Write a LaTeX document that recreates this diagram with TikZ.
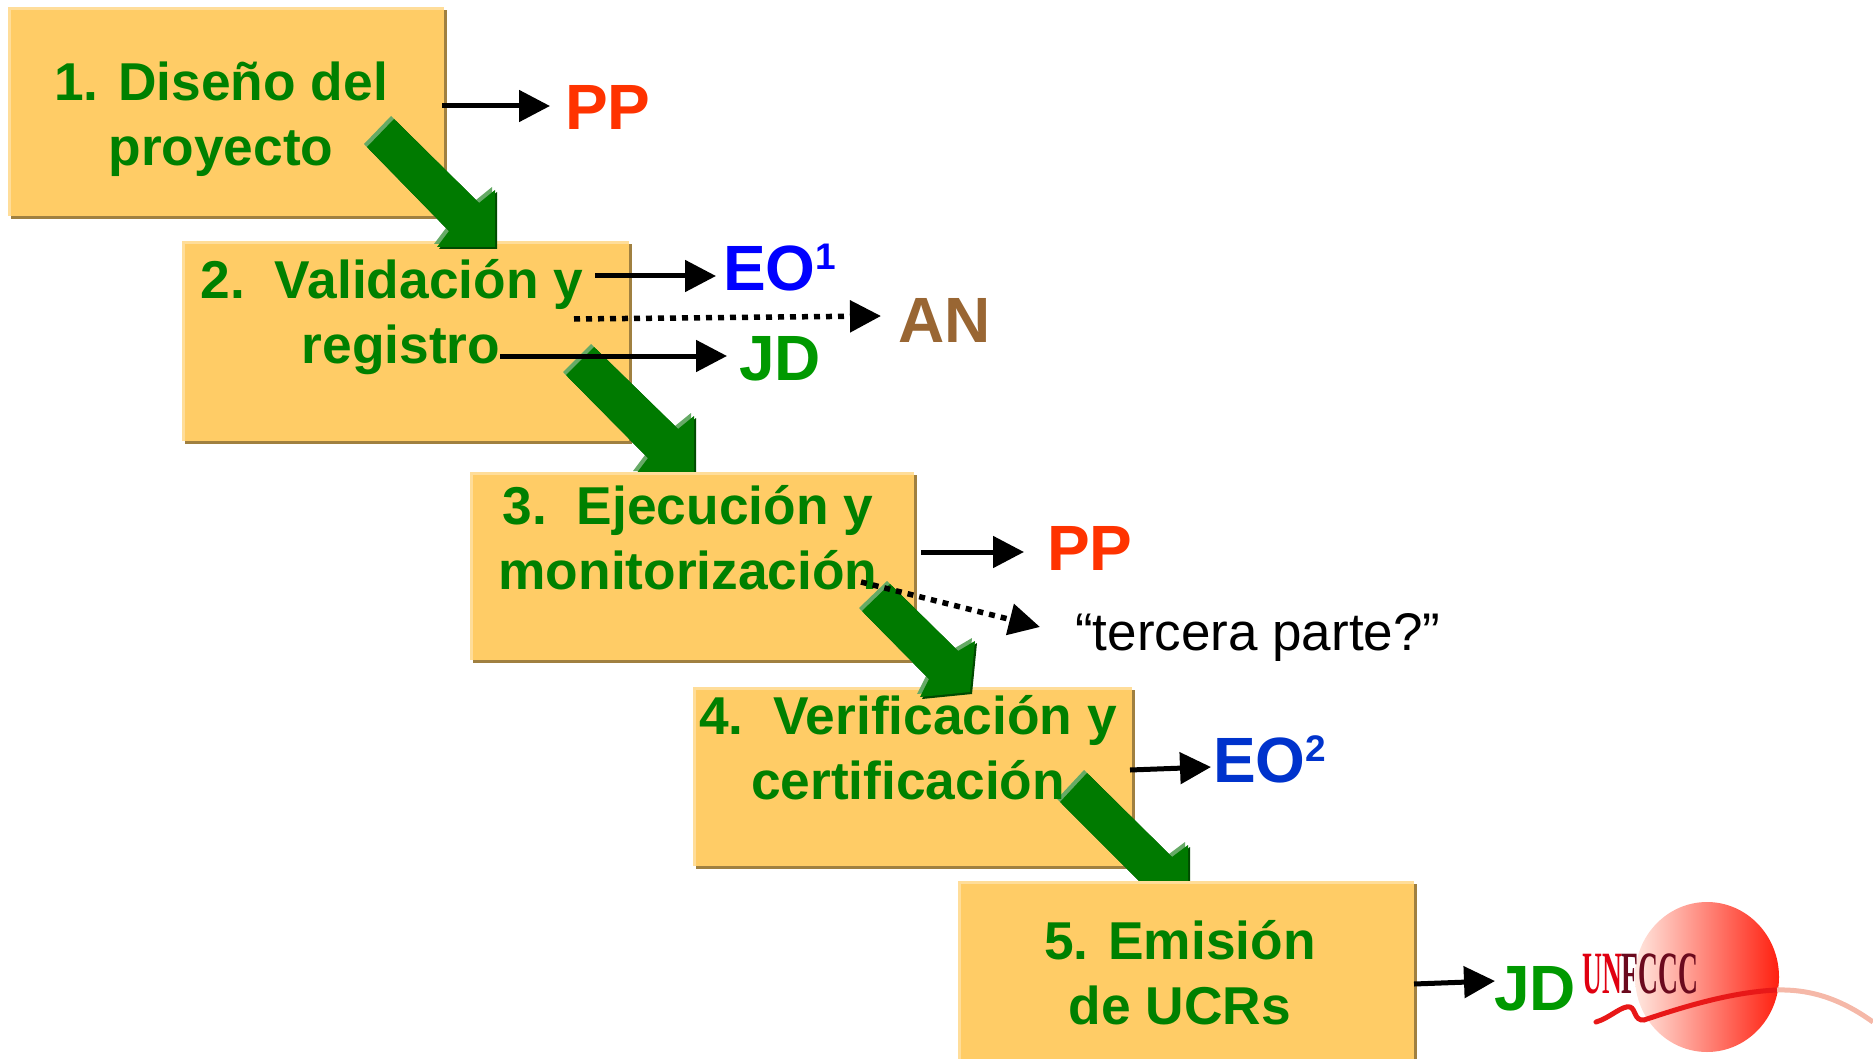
\documentclass[tikz,border=0pt]{standalone}
\usepackage{fontspec}
\setmainfont{Liberation Sans}
\newfontfamily\logofont{Liberation Serif}
\usetikzlibrary{arrows.meta,calc}
\definecolor{boxfill}{HTML}{FFCC66}
\definecolor{boxlight}{HTML}{FFDD99}
\definecolor{boxdark}{HTML}{A08040}
\definecolor{stepgreen}{HTML}{007A00}
\definecolor{steplight}{HTML}{66AA66}
\definecolor{stepdark}{HTML}{004A00}
\definecolor{ppred}{HTML}{FF3300}
\definecolor{eoblue}{HTML}{0000FF}
\definecolor{eoblueb}{HTML}{0033CC}
\definecolor{anbrown}{HTML}{996633}
\definecolor{jdgreen}{HTML}{009900}
\definecolor{unred}{HTML}{E00010}
\definecolor{unmaroon}{HTML}{6B0A1E}
\definecolor{sphereleft}{HTML}{FFE8E0}
\definecolor{sphereright}{HTML}{FF2010}
\definecolor{swooshred}{HTML}{E81818}
\definecolor{swooshpale}{HTML}{F5B8A8}
\newcommand{\stepbox}[5]{%
  \fill[boxdark] (#2+3,#3+3) rectangle (#4,#5);
  \fill[boxlight] (#2,#3) rectangle (#4-3,#5-3);
  \fill[boxfill] (#2+3,#3+3) rectangle (#4-3,#5-3);
  \coordinate (#1) at ($(#2,#3)!.5!(#4,#5)$);
}
\newcommand{\bigarrow}[1]{%
  \fill[steplight,shift={(-3,-3)}] #1 -- cycle;
  \fill[stepdark,shift={(2,2)}] #1 -- cycle;
  \fill[stepgreen] #1 -- cycle;
}
\tikzset{
  boxtext/.style={inner sep=0pt,font=\fontsize{53.3}{65}\selectfont\bfseries,text=green!50!black,align=center,anchor=base},
  tag/.style={inner sep=0pt,anchor=west,text height=45pt,text depth=0pt,font=\fontsize{64}{64}\selectfont\bfseries},
  thinarrow/.style={line width=5pt,-{Triangle[length=31pt,width=31pt]},black},
  dotarrow/.style={line width=5.5pt,dash pattern=on 6pt off 6pt,-{Triangle[length=31pt,width=31pt,sep=0pt]},black},
}
\begin{document}
\begin{tikzpicture}[x=1pt,y=-1pt]
\useasboundingbox (0,0) rectangle (1873,1059);
% boxes and thick arrows, in stacking order
\stepbox{b1}{8}{7}{447}{219}
\stepbox{b2}{182}{241}{632}{444}
\bigarrow{(394,119) -- (479,203) -- (495,190) -- (495,247) -- (437,247) -- (449,231) -- (367,147)}
\bigarrow{(594,347) -- (678,429) -- (694,416) -- (694,474) -- (636,474) -- (648,458) -- (566,375)}
\stepbox{b3}{470}{472}{917}{663}
\stepbox{b4}{693}{687}{1135}{869}
\bigarrow{(890,584) -- (958,651) -- (975,641) -- (970,692) -- (920,697) -- (929,679) -- (862,611)}
\bigarrow{(1087,773) -- (1172,857) -- (1188,845) -- (1188,900) -- (1130,900) -- (1143,885) -- (1060,802)}
\stepbox{b5}{958}{881}{1417}{1062}
% box texts
\node[boxtext] (t1) at (221,166) {1. Diseño del\\proyecto};
\node[boxtext] (t2) at (392,363) {2.\ \ Validación y\\\hspace*{18pt}registro};
\node[boxtext] (t3) at (688,589) {3.\ \ Ejecución y\\monitorización};
\node[boxtext] (t4) at (908,799) {4.\ \ Verificación y\\certificación};
\node[boxtext] (t5) at (1180,1024) {5. Emisión\\de UCRs};
% tags
\node[tag,text=ppred] (pp1) at (565,107) {PP};
\node[tag,text=eoblue] (eo1) at (723,268) {EO\raisebox{21pt}{\fontsize{37}{37}\selectfont 1}};
\node[tag,text=anbrown] (an) at (898,320) {AN};
\node[tag,text=jdgreen] (jd1) at (739,358) {JD};
\node[tag,text=ppred] (pp2) at (1047,548) {PP};
\node[inner sep=0pt,anchor=west,text height=38pt,text depth=0pt,font=\fontsize{53}{53}\selectfont] (tp) at (1075,631) {“tercera parte?”};
\node[tag,text=eoblueb] (eo2) at (1213,760) {EO\raisebox{21pt}{\fontsize{37}{37}\selectfont 2}};
\node[tag,text=jdgreen] (jd2) at (1494,988) {JD};
% free ends of the connectors
\coordinate (s1) at (442,106);
\coordinate (s2) at (595,276);
\coordinate (s3) at (574,319);
\coordinate (s4) at (500,356);
\coordinate (s5) at (921,552);
\coordinate (s6) at (861,582);
\coordinate (s7) at (1130,770);
\coordinate (s8) at (1414,984);
% connectors
\draw[thinarrow] (s1) -- ($(pp1.west)+(-15,-1)$);
\draw[thinarrow] (s2) -- ($(eo1.west)+(-7,8)$);
\draw[dotarrow] (s3) -- ($(an.west)+(-17,-4)$);
\draw[thinarrow] (s4) -- ($(jd1.west)+(-12,-2)$);
\draw[thinarrow] (s5) -- ($(pp2.west)+(-23,4)$);
\draw[dotarrow] (s6) -- ($(tp.west)+(-35,-4)$);
\draw[thinarrow] (s7) -- ($(eo2.west)+(-2,7)$);
\draw[thinarrow] (s8) -- ($(jd2.west)+(1,-7)$);
% UNFCCC logo
\shade[left color=sphereleft,right color=sphereright] (1707,977) ellipse [x radius=72,y radius=75];
\node[inner sep=0pt,font=\logofont\fontsize{60}{60}\selectfont\bfseries,xscale=.46,anchor=base west] (logo) at (1582,993) {\textcolor{unred}{UN}\textcolor{unmaroon}{FCCC}};
\draw[line width=5pt,line cap=round,swooshred] (1596,1022) .. controls (1610,1018) and (1622,1005) .. (1630,1007) .. controls (1636,1009) and (1634,1021) .. (1644,1020) .. controls (1680,1008) and (1730,992) .. (1777,990);
\draw[line width=5pt,swooshpale] (1777,990) .. controls (1815,989) and (1845,1002) .. (1873,1022);
\end{tikzpicture}
\end{document}
